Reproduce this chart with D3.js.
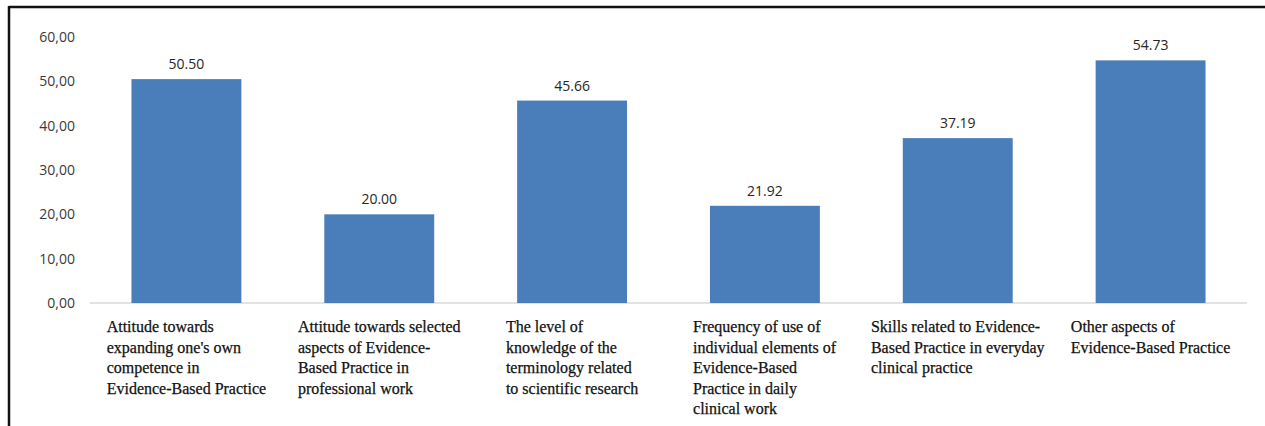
<!DOCTYPE html>
<html>
<head>
<meta charset="utf-8">
<script src="https://d3js.org/d3.v7.min.js"></script>
<style>
  body { margin: 0; background: #fff; }
  svg { display: block; }
</style>
</head>
<body>
<svg width="1265" height="426"></svg>
<script>
// categories (already wrapped the way the original shows them)
var categories = [
  ["Attitude towards", "expanding one's own", "competence in", "Evidence-Based Practice"],
  ["Attitude towards selected", "aspects of Evidence-", "Based Practice in", "professional work"],
  ["The level of", "knowledge of the", "terminology related", "to scientific research"],
  ["Frequency of use of", "individual elements of", "Evidence-Based", "Practice in daily", "clinical work"],
  ["Skills related to Evidence-", "Based Practice in everyday", "clinical practice"],
  ["Other aspects of", "Evidence-Based Practice"]
];
var values = [50.50, 20.00, 45.66, 21.92, 37.19, 54.73];
var yTicks = [0, 10, 20, 30, 40, 50, 60];

var svg = d3.select("svg"),
    width = +svg.attr("width"),
    height = +svg.attr("height");

// frame (top + left edge of the original figure box)
svg.append("line").attr("x1", 9).attr("x2", width).attr("y1", 7).attr("y2", 7)
  .attr("stroke", "#111").attr("stroke-width", 2.5);
svg.append("line").attr("x1", 9).attr("x2", 9).attr("y1", 6).attr("y2", height)
  .attr("stroke", "#111").attr("stroke-width", 2.5);

var margin = {left: 90, right: 18, top: 37, bottom: 123};

var x = d3.scaleBand()
    .domain(d3.range(values.length))
    .range([margin.left, width - margin.right])
    .paddingInner(0.43)
    .paddingOuter(0.215);

var y = d3.scaleLinear()
    .domain([0, 60])
    .range([height - margin.bottom, margin.top]);

// y axis labels only, no line
var yAxis = svg.append("g")
    .attr("transform", "translate(" + (margin.left - 12) + ",0)")
    .call(d3.axisLeft(y).tickValues(yTicks).tickSize(0)
      .tickFormat(function(d){ return d3.format(".2f")(d).replace(".", ","); }));
yAxis.select(".domain").remove();
yAxis.selectAll("text")
    .style("font-family", "'Open Sans', sans-serif")
    .style("font-size", "14px")
    .style("fill", "#3a3a3a");

// baseline
svg.append("line")
    .attr("x1", margin.left).attr("x2", width - margin.right)
    .attr("y1", y(0)).attr("y2", y(0))
    .attr("stroke", "#d9d9d9").attr("stroke-width", 1.5);

svg.append("g").selectAll("rect")
    .data(values)
    .enter().append("rect")
    .attr("x", function(d, i){ return x(i); })
    .attr("y", function(d){ return y(d); })
    .attr("width", x.bandwidth())
    .attr("height", function(d){ return y(0) - y(d); })
    .attr("fill", "#4a7ebb");

svg.append("g").selectAll("text")
    .data(values)
    .enter().append("text")
    .attr("x", function(d, i){ return x(i) + x.bandwidth() / 2; })
    .attr("y", function(d){ return y(d) - 10; })
    .attr("text-anchor", "middle")
    .style("font-family", "'Open Sans', sans-serif")
    .style("font-size", "14px")
    .style("fill", "#262626")
    .text(function(d){ return d.toFixed(2); });

// category labels: left aligned block, centred under the bar
var cat = svg.append("g").selectAll("text")
    .data(categories)
    .enter().append("text")
    .attr("y", y(0) + 29)
    .style("font-family", "'Liberation Serif', 'DejaVu Serif', serif")
    .style("font-size", "16px")
    .style("fill", "#111")
    .style("stroke", "#111")
    .style("stroke-width", 0.25);

cat.each(function(lines, i){
  var t = d3.select(this);
  lines.forEach(function(l, j){
    t.append("tspan").attr("x", 0).attr("dy", j === 0 ? 0 : 20.5).text(l);
  });
  var w = this.getBBox().width;
  var x0 = x(i) + x.bandwidth() / 2 - w / 2;
  t.selectAll("tspan").attr("x", x0);
});
</script>
</body>
</html>
